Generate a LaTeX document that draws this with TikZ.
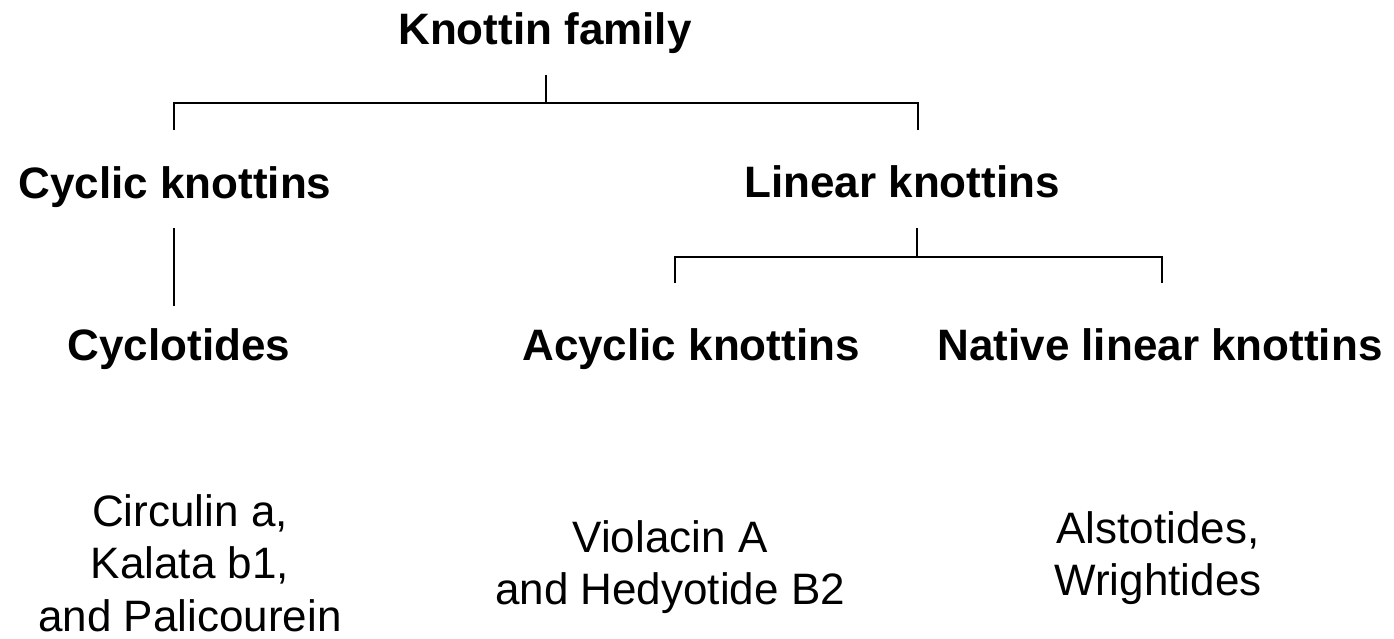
\documentclass[tikz,border=0pt]{standalone}
\usepackage{fontspec}
\setmainfont{Liberation Sans}
\begin{document}
\begin{tikzpicture}[x=1pt,y=-1pt,
  head/.style={font=\fontsize{44}{52}\selectfont\bfseries, inner sep=0pt, anchor=base},
  item/.style={font=\fontsize{44}{52.5}\selectfont, inner sep=0pt, anchor=north, align=center},
  link/.style={line width=2.9pt, line cap=butt, line join=miter}]
\useasboundingbox (0,0) rectangle (1394,639);

% tree labels
\node[head] (fam) at (545,45)  {Knottin family};
\node[head] (cyc) at (175,198) {Cyclic knottins};
\node[head] (lin) at (902,197) {Linear knottins};
\node[head] (cyt) at (179,360) {Cyclotides};
\node[head] (acy) at (691,360) {Acyclic knottins};
\node[head] (nat) at (1160,360) {Native linear knottins};

% example peptides
\node[item] (excyt) at (190,494)  {Circulin a,\\Kalata b1,\\and Palicourein};
\node[item] (exacy) at (670,520)  {Violacin A\\and Hedyotide B2};
\node[item] (exnat) at (1158,511) {Alstotides,\\Wrightides};

% bracket under the family
\coordinate (famTop)  at (546,75);
\coordinate (famJoin) at (546,103);
\coordinate (cycEnd)  at (174,130);
\coordinate (linEnd)  at (918,130);
\draw[link] (famTop) -- (famJoin);
\draw[link] (cycEnd) -- (cycEnd |- famJoin) -- (linEnd |- famJoin) -- (linEnd);

% cyclic branch
\coordinate (cycTop) at (174,228);
\coordinate (cytEnd) at (174,306);
\draw[link] (cycTop) -- (cytEnd);

% bracket under the linear knottins
\coordinate (linTop)  at (917,228);
\coordinate (linJoin) at (917,257);
\coordinate (acyEnd)  at (675,283);
\coordinate (natEnd)  at (1162,283);
\draw[link] (linTop) -- (linJoin);
\draw[link] (acyEnd) -- (acyEnd |- linJoin) -- (natEnd |- linJoin) -- (natEnd);
\end{tikzpicture}
\end{document}
